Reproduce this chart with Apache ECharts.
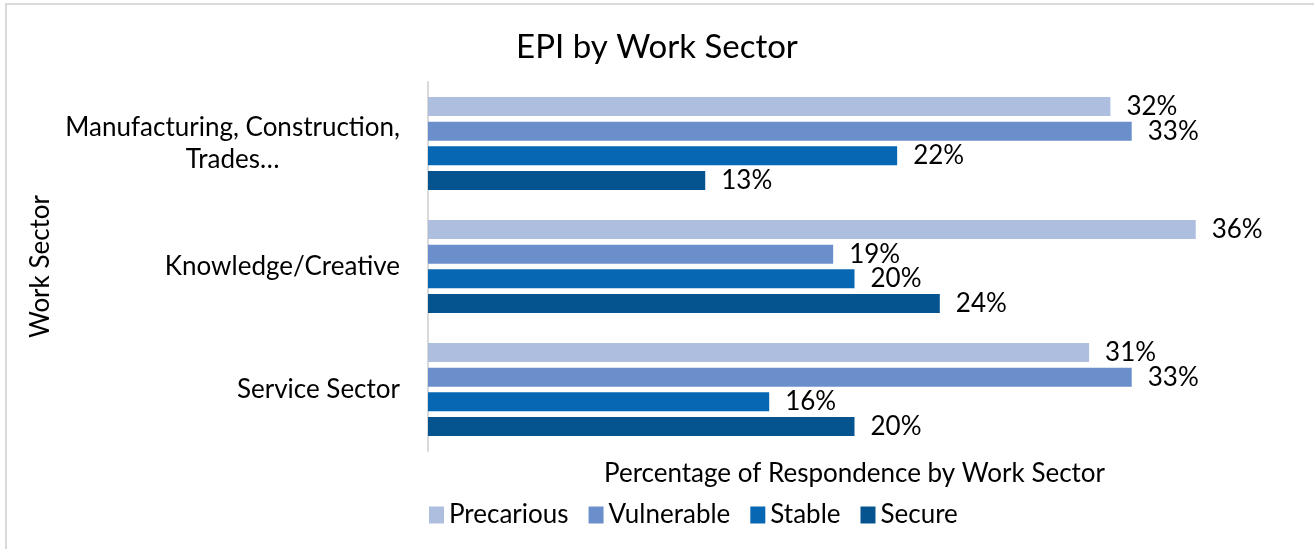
<!DOCTYPE html>
<html>
<head>
<meta charset="utf-8">
<script src="https://cdn.jsdelivr.net/npm/echarts@6/dist/echarts.min.js"></script>
<style>
  html, body { margin: 0; padding: 0; background: #fff; }
  #chart { width: 1314px; height: 549px; }
</style>
</head>
<body>
<div id="chart"></div>
<script>
// 数据
const sectors = ['Manufacturing, Construction,\nTrades…', 'Knowledge/Creative', 'Service Sector'];
const seriesNames = ['Precarious', 'Vulnerable', 'Stable', 'Secure'];
const precarious = [32, 36, 31];
const vulnerable = [33, 19, 33];
const stable = [22, 20, 16];
const secure = [13, 24, 20];

const colors = ['#adbedf', '#6a8fcb', '#0767b3', '#06548f'];
const font = 'Lato, "Open Sans", sans-serif';
const valueLists = [precarious, vulnerable, stable, secure];

const chart = echarts.init(document.getElementById('chart'), null, { renderer: 'canvas' });

const option = {
    backgroundColor: '#fff',
    animation: false,
    textStyle: { fontFamily: font, color: '#000' },
    title: {
        text: 'EPI by Work Sector',
        left: 'center',
        top: 26,
        textStyle: { fontFamily: font, fontSize: 33, fontWeight: 'normal', color: '#000' }
    },
    legend: {
        data: seriesNames,
        left: 424,
        top: 497,
        itemWidth: 15,
        itemHeight: 17,
        itemGap: 20,
        icon: 'rect',
        textStyle: { fontFamily: font, fontSize: 26, color: '#000' }
    },
    grid: { left: 428, right: 33, top: 82, bottom: 98 },
    xAxis: {
        type: 'value',
        min: 0,
        max: 40,
        name: 'Percentage of Respondence by Work Sector',
        nameLocation: 'middle',
        nameGap: 10,
        nameTextStyle: { fontFamily: font, fontSize: 26, color: '#000', verticalAlign: 'top' },
        axisLine: { show: false },
        axisTick: { show: false },
        axisLabel: { show: false },
        splitLine: { show: false }
    },
    yAxis: {
        type: 'category',
        data: sectors,
        inverse: true,
        name: 'Work Sector',
        nameLocation: 'middle',
        nameGap: 374,
        nameRotate: 90,
        nameTextStyle: { fontFamily: font, fontSize: 26, color: '#000' },
        axisLine: { show: true, lineStyle: { color: '#d9d9d9', width: 2 } },
        axisTick: { show: false },
        axisLabel: {
            margin: 28,
            formatter: function (v) {
                // 多行标签居中对齐
                return v.split('\n').map(s => '{c|' + s + '}').join('\n');
            },
            rich: {
                c: { fontFamily: font, fontSize: 26, color: '#000', align: 'center', lineHeight: 32 }
            }
        }
    },
    series: seriesNames.map((name, i) => ({
        name: name,
        type: 'bar',
        data: valueLists[i],
        barWidth: 19,
        barGap: '30%',
        itemStyle: { color: colors[i] },
        label: {
            show: true,
            position: 'right',
            distance: 16,
            formatter: '{c}%',
            fontFamily: font,
            fontSize: 26,
            color: '#000'
        }
    })),
    graphic: [{
        type: 'rect',
        shape: { x: 6, y: 4, width: 1400, height: 600 },
        style: { fill: 'none', stroke: '#d9d9d9', lineWidth: 2 },
        silent: true
    }]
};

chart.setOption(option);
</script>
</body>
</html>
